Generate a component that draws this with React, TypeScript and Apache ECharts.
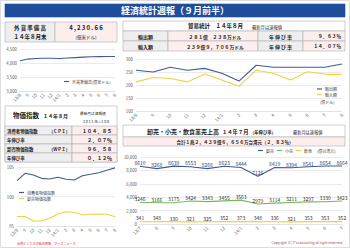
import React, { useEffect, useRef } from "react";
import * as echarts from "echarts";

const F = '"Noto Sans CJK JP", "Noto Sans", sans-serif';

// ---- data ----
const forexMonths = ["13/8", "9", "10", "11", "12", "14/1", "2", "3", "4", "5", "6", "7", "8"];
const forexValues = [4082, 4140, 4160, 4167, 4168, 4162, 4177, 4193, 4209, 4222, 4228, 4233, 4231];

const tradeMonths = ["13/8", "9", "10", "11", "12", "14/1", "2", "3", "4", "5", "6", "7", "8"];
const exportValues = [257, 250, 268, 257, 264, 245, 215, 276, 268, 268, 268, 268, 281];
const importValues = [212, 229, 225, 212, 242, 219, 195, 257, 245, 219, 251, 242, 240];

const priceMonths = ["13/8", "9", "10", "11", "12", "14/1", "2", "3", "4", "5", "6", "7", "8"];
const cpiValues = [102.68, 103.93, 103.64, 103.08, 102.97, 103.25, 102.92, 102.8, 103.53, 103.76, 104.03, 104.45, 104.85];
const wpiValues = [96.6, 96.6, 95.85, 95.85, 96.3, 97.03, 97.42, 97.32, 96.86, 96.98, 97.03, 96.98, 96.58];

const retailMonths = ["13/7", "8", "9", "10", "11", "12", "14/1", "2", "3", "4", "5", "6", "7"];
const wholesaleValues = [8610, 8268, 8639, 8553, 8268, 8623, 8444, 7126, 8419, 8394, 8541, 8654, 8664];
const retailValues = [3246, 3166, 3175, 3424, 3343, 3455, 3563, 2979, 3114, 3211, 3297, 3330, 3423];
const foodValues = [341, 348, 330, 321, 325, 352, 373, 348, 336, 321, 353, 353, 352];

const BLUE = "#3f5b99";
const YELLOW = "#f0d040";
const GREEN = "#77b85d";
const PINK = "#fdeeee";
const GRAY = "#eeeeee";

function sp(s: string) {
  return s.split("").join("\u2009");
}

export default function App() {
  const ref = useRef<HTMLDivElement>(null);
  useEffect(() => {
    document.body.style.margin = "0";
    const chart = echarts.init(ref.current!, null, { renderer: "svg" });

    const G: any[] = [];
    const rect = (x: number, y: number, w: number, h: number, fill: string, stroke = "#b0b0b0") =>
      G.push({
        type: "rect",
        shape: { x, y, width: w, height: h },
        style: { fill, stroke, lineWidth: 0.6 },
        silent: true,
        z: 1,
      });
    const text = (x: number, y: number, t: string, size: number, o: any = {}) =>
      G.push({
        type: "text",
        x,
        y,
        style: {
          text: t,
          fontFamily: F,
          fontSize: size,
          fontWeight: o.bold ? "bold" : "normal",
          fill: o.color || "#222",
          align: o.align || "center",
          verticalAlign: "middle",
          textAlign: o.align || "center",
          textVerticalAlign: "middle",
        },
        silent: true,
        z: 2,
      });

    // outer frame
    rect(0.5, 0.5, 349, 247, "none", "#c8c8c8");
    // title bar
    rect(5, 4, 340, 13, "#1f4d9a", "#1f4d9a");
    text(175, 10.7, "経済統計週報（９月前半）", 9, { bold: true, color: "#ffffff" });

    // forex table
    rect(5, 22, 50, 20, GRAY);
    rect(55, 22, 62, 20, PINK);
    text(30, 27.5, sp("外貨準備高"), 5.5, { bold: true });
    text(30, 36.5, "１４年８月末", 5.5, { bold: true });
    text(86, 27.5, sp("4,230.66"), 6, { bold: true });
    text(86, 36.5, "(億米ドル)", 4.5);

    // trade table
    rect(123, 21, 222, 10, "#ffffff");
    text(188, 26, "貿易統計　１４年８月", 5.5, { bold: true, align: "left" });
    text(252, 26.5, "最新月は速報値", 4.3, { align: "left" });
    const tradeRows = [
      ["輸出額", "２８１億　２３８万ドル", "９．６３％"],
      ["輸入額", "２３９億９，７０６万ドル", "１４．０７％"],
    ];
    tradeRows.forEach((r, i) => {
      const y = 31 + i * 10;
      rect(123, y, 45, 10, GRAY);
      rect(168, y, 90, 10, PINK);
      rect(258, y, 45, 10, GRAY);
      rect(303, y, 42, 10, PINK);
      text(145.5, y + 5, r[0], 5, { bold: true });
      text(215, y + 5, r[1], 4.8, { bold: true });
      text(280.5, y + 5, sp("年伸び率"), 5, { bold: true });
      text(341, y + 5, r[2], 4.6, { bold: true, align: "right" });
    });

    // CPI table
    rect(5, 106, 112, 56, "#ffffff");
    text(13, 115, "物価指数", 6.5, { bold: true, align: "left" });
    text(43, 115.5, "１４年８月", 5, { bold: true, align: "left" });
    text(80, 113.5, "最新月は速報値", 3.7, { align: "left" });
    text(83, 121, sp("2011年=100"), 3.7, { align: "left" });
    const cpiRows = [
      ["消費者物価指数", "（ＣＰＩ）", "１０４．８５"],
      ["年伸び率", "", "２．０７％"],
      ["卸売物価指数", "（ＷＰＩ）", "９６．５８"],
      ["年伸び率", "", "０．１２％"],
    ];
    cpiRows.forEach((r, i) => {
      const y = 126 + i * 9;
      rect(5, y, 67, 9, GRAY);
      rect(72, y, 45, 9, PINK);
      text(7, y + 4.6, r[0], 4.4, { bold: true, align: "left" });
      if (r[1]) text(49, y + 4.6, r[1], 4.2, { bold: true, align: "left" });
      text(112, y + 4.6, r[2], 5, { bold: true, align: "right" });
    });

    // retail table
    rect(123, 125, 222, 12, "#ffffff");
    rect(123, 137, 222, 9, PINK);
    text(147, 131.3, "卸売・小売・飲食業売上高", 6, { bold: true, align: "left" });
    text(222, 131.5, "１４年７月", 5.3, { bold: true, align: "left" });
    text(250, 131.8, "（年伸び率）", 4.3, { bold: true, align: "left" });
    text(293, 131.8, "最新月は速報値", 4.2, { align: "left" });
    text(235, 141.7, "合計１兆２，４３９億６，６５６万台湾元（２．８３％）", 4.5, { bold: true });

    // units
    text(320, 102, "(億ドル)", 4, { align: "left", color: "#444" });
    text(317, 150.5, "(億台湾元)", 4, { align: "left", color: "#444" });

    // footer
    text(17, 243, "台湾ビジネスの総合情報　ワイズニュース", 3.1, { align: "left", color: "#cc3333" });
    text(343, 242.5, "Copyright (C) Y's consulting all right reserved.", 3.4, {
      align: "right",
      color: "#a04040",
    });

    const xCat = (gridIndex: number, data: string[]) => ({
      type: "category",
      gridIndex,
      data,
      boundaryGap: false,
      axisLine: { show: true, lineStyle: { color: "#dddddd", width: 0.6 } },
      axisTick: { show: false },
      axisLabel: {
        show: true,
        rotate: 45,
        fontSize: 4.5,
        color: "#666666",
        margin: 3,
        interval: 0,
        fontFamily: F,
        hideOverlap: false,
      },
    });
    const yVal = (gridIndex: number, min: number, max: number, interval: number) => ({
      type: "value",
      gridIndex,
      min,
      max,
      interval,
      axisLine: { show: false },
      axisTick: { show: false },
      axisLabel: {
        fontSize: 4.3,
        color: "#555",
        margin: 3,
        fontFamily: F,
        formatter: (v: number) => v.toLocaleString("en-US"),
      },
      splitLine: { lineStyle: { color: "#dddddd", width: 0.6 } },
    });

    const line = (name: string, xi: number, data: number[], color: string, extra: any = {}) => ({
      name,
      type: "line",
      xAxisIndex: xi,
      yAxisIndex: xi,
      data,
      symbol: "none",
      lineStyle: { color, width: 1.1 },
      itemStyle: { color },
      ...extra,
    });
    const lab = (color: string) => ({
      symbol: "circle",
      symbolSize: 0.5,
      showSymbol: true,
      label: { show: true, position: "top", distance: 1, fontSize: 5, color, fontFamily: F },
      labelLayout: { hideOverlap: false },
    });

    const legendCommon = {
      itemWidth: 5,
      itemHeight: 1.2,
      itemGap: 3,
      icon: "rect",
      padding: 0,
      selectedMode: false,
      textStyle: { fontSize: 4, color: "#444", fontFamily: F, padding: [0, 0, 0, -2] },
    };

    chart.setOption({
      animation: false,
      backgroundColor: "#ffffff",
      grid: [
        { left: 20, top: 49, width: 95, height: 42 },
        { left: 136, top: 59, width: 206, height: 52 },
        { left: 17, top: 167, width: 98, height: 59 },
        { left: 140, top: 157, width: 202, height: 67 },
      ],
      xAxis: [xCat(0, forexMonths), xCat(1, tradeMonths), xCat(2, priceMonths), xCat(3, retailMonths)],
      yAxis: [yVal(0, 3000, 4500, 500), yVal(1, 100, 300, 50), yVal(2, 95, 105, 5), yVal(3, 0, 10000, 2000)],
      legend: [
        { ...legendCommon, left: 64, top: 79.5, data: ["外貨準備高(億米ドル)"] },
        { ...legendCommon, left: 317, top: 87, orient: "vertical", itemGap: 1.5, data: ["輸出額", "輸入額"] },
        { ...legendCommon, left: 19, top: 190.5, orient: "vertical", itemGap: 2, data: ["消費者物価指数", "卸売物価指数"] },
        { ...legendCommon, left: 258, top: 148.5, data: ["卸売", "小売", "飲食"] },
      ],
      series: [
        line("外貨準備高(億米ドル)", 0, forexValues, BLUE),
        line("輸出額", 1, exportValues, BLUE),
        line("輸入額", 1, importValues, YELLOW),
        line("消費者物価指数", 2, cpiValues, BLUE),
        line("卸売物価指数", 2, wpiValues, YELLOW),
        line("卸売", 3, wholesaleValues, BLUE, lab("#2d3f6e")),
        line("小売", 3, retailValues, GREEN, lab("#333333")),
        line("飲食", 3, foodValues, YELLOW, lab("#333333")),
      ],
      graphic: G,
    });
    return () => chart.dispose();
  }, []);
  return <div ref={ref} style={{ width: 350, height: 248, position: "absolute", left: 0, top: 0 }} />;
}
